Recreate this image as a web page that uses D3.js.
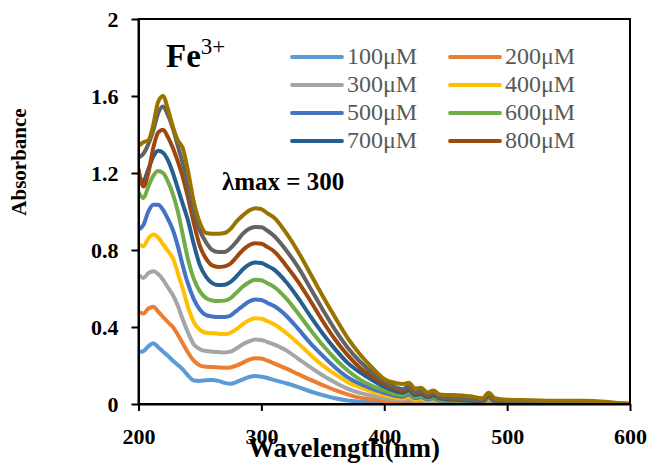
<!DOCTYPE html>
<html>
<head>
<meta charset="utf-8">
<script src="https://cdn.jsdelivr.net/npm/d3@7/dist/d3.min.js"></script>
<style>
  html, body { margin: 0; padding: 0; background: #fff; }
  svg { display: block; }
</style>
</head>
<body>
<svg id="chart" width="652" height="463"></svg>
<script>
// Wavelength grid (nm) shared by every spectrum
const wavelengths = [200,204,208,212,216,220,224,228,232,236,240,
  245,250,255,260,265,270,275,280,285,290,295,300,305,310,
  320,330,340,350,360,370,380,390,400,410,
  415,420,425,430,435,440,445,450,
  460,470,480,485,490,500,
  520,540,560,580,590,600];

// Absorbance of Fe3+ solutions at each concentration
const abs100 = [0.27,0.275,0.30,0.315,0.295,0.272,0.25,0.225,0.203,0.18,0.15,
  0.122,0.12,0.124,0.125,0.12,0.11,0.105,0.115,0.128,0.14,0.145,0.142,0.135,0.125,
  0.108,0.088,0.065,0.046,0.03,0.018,0.012,0.009,0.007,0.005,
  0.005,0.009,0.004,0.007,0.003,0.006,0.003,0.003,
  0.003,0.002,0.002,0.01,0.002,0.002,
  0.001,0.001,0.001,0,0,0];
const abs200 = [0.48,0.47,0.495,0.505,0.48,0.452,0.425,0.40,0.36,0.315,0.27,
  0.225,0.20,0.193,0.192,0.19,0.188,0.19,0.2,0.215,0.23,0.238,0.236,0.225,0.212,
  0.185,0.155,0.125,0.098,0.072,0.05,0.033,0.023,0.016,0.011,
  0.01,0.02,0.008,0.013,0.006,0.011,0.005,0.005,
  0.004,0.003,0.003,0.015,0.003,0.003,
  0.002,0.002,0.001,0,0,0];
const abs300 = [0.67,0.655,0.68,0.69,0.675,0.645,0.605,0.566,0.51,0.44,0.375,
  0.31,0.285,0.275,0.272,0.27,0.268,0.272,0.29,0.31,0.325,0.335,0.333,0.322,0.31,
  0.28,0.235,0.19,0.148,0.112,0.08,0.058,0.043,0.03,0.022,
  0.02,0.03,0.015,0.02,0.012,0.016,0.01,0.009,
  0.008,0.006,0.005,0.022,0.005,0.004,
  0.003,0.002,0.002,0.001,0,0];
const abs400 = [0.83,0.82,0.86,0.88,0.865,0.83,0.795,0.757,0.68,0.6,0.51,
  0.425,0.385,0.37,0.367,0.365,0.363,0.37,0.39,0.415,0.435,0.445,0.443,0.43,0.415,
  0.37,0.315,0.255,0.2,0.155,0.115,0.088,0.065,0.045,0.033,
  0.03,0.04,0.022,0.028,0.018,0.022,0.014,0.012,
  0.01,0.008,0.007,0.028,0.007,0.006,
  0.004,0.003,0.002,0.001,0,0];
const abs500 = [0.905,0.93,1.0,1.035,1.035,1.008,0.96,0.904,0.82,0.72,0.63,
  0.545,0.49,0.462,0.455,0.452,0.452,0.46,0.485,0.51,0.532,0.543,0.54,0.525,0.51,
  0.46,0.39,0.315,0.25,0.19,0.14,0.105,0.08,0.058,0.042,
  0.038,0.05,0.03,0.036,0.024,0.03,0.018,0.016,
  0.013,0.01,0.009,0.032,0.008,0.007,
  0.005,0.004,0.003,0.001,0,0];
const abs600 = [1.1,1.07,1.13,1.185,1.21,1.2,1.155,1.09,1.0,0.88,0.76,
  0.65,0.585,0.55,0.538,0.535,0.537,0.55,0.58,0.61,0.633,0.645,0.643,0.627,0.61,
  0.55,0.47,0.385,0.305,0.235,0.175,0.128,0.095,0.07,0.05,
  0.045,0.06,0.035,0.042,0.028,0.035,0.022,0.019,
  0.016,0.012,0.011,0.038,0.01,0.008,
  0.006,0.005,0.003,0.002,0.001,0];
const abs700 = [1.18,1.16,1.22,1.285,1.315,1.305,1.265,1.2,1.12,1.04,0.96,
  0.83,0.72,0.66,0.628,0.618,0.62,0.635,0.665,0.7,0.725,0.735,0.732,0.717,0.70,
  0.635,0.55,0.455,0.365,0.285,0.215,0.165,0.125,0.09,0.065,
  0.058,0.072,0.045,0.052,0.036,0.044,0.029,0.025,
  0.021,0.017,0.015,0.045,0.013,0.011,
  0.008,0.006,0.004,0.002,0.001,0];
const abs800 = [1.22,1.13,1.2,1.33,1.41,1.425,1.385,1.33,1.26,1.18,1.08,
  0.94,0.82,0.755,0.72,0.712,0.715,0.73,0.765,0.8,0.825,0.835,0.832,0.815,0.795,
  0.72,0.635,0.535,0.43,0.335,0.255,0.19,0.145,0.105,0.075,
  0.067,0.082,0.052,0.06,0.042,0.052,0.034,0.029,
  0.025,0.02,0.017,0.05,0.015,0.012,
  0.01,0.007,0.005,0.003,0.001,0];
const abs900 = [1.28,1.3,1.35,1.42,1.51,1.545,1.5,1.43,1.34,1.25,1.14,
  1.0,0.9,0.84,0.80,0.79,0.79,0.81,0.845,0.885,0.91,0.92,0.918,0.9,0.875,
  0.8,0.71,0.6,0.49,0.385,0.295,0.222,0.165,0.118,0.085,
  0.077,0.094,0.06,0.068,0.048,0.058,0.039,0.034,
  0.029,0.024,0.02,0.055,0.018,0.015,
  0.012,0.009,0.007,0.004,0.002,0];
const abs1000 = [1.34,1.36,1.37,1.45,1.57,1.6,1.53,1.44,1.37,1.33,1.22,
  1.05,0.94,0.888,0.884,0.884,0.888,0.91,0.95,0.98,1.005,1.017,1.012,0.99,0.97,
  0.89,0.79,0.675,0.56,0.45,0.345,0.26,0.19,0.13,0.108,
  0.104,0.11,0.08,0.085,0.06,0.07,0.05,0.047,
  0.046,0.04,0.03,0.058,0.03,0.022,
  0.02,0.017,0.017,0.012,0.005,0.003];

const seriesNames = ["100μM","200μM","300μM","400μM","500μM","600μM","700μM","800μM","900μM","1000μM"];
const seriesColors = ["#5B9BD5","#ED7D31","#A5A5A5","#FFC000","#4472C4","#70AD47","#255E91","#9E480E","#636363","#997300"];
const seriesValues = [abs100,abs200,abs300,abs400,abs500,abs600,abs700,abs800,abs900,abs1000];
const legendCount = 8; // only the first eight concentrations are listed

const xTicks = [200,300,400,500,600];
const yTicks = [0,0.4,0.8,1.2,1.6,2];

const serif = "'Liberation Serif','Times New Roman',Times,serif";
const svg = d3.select("#chart");
const plot = {left: 138.5, right: 630, top: 19, bottom: 404};

const x = d3.scaleLinear().domain([200,600]).range([plot.left, plot.right]);
const y = d3.scaleLinear().domain([0,2]).range([plot.bottom, plot.top]);

svg.append("rect").attr("width",652).attr("height",463).attr("fill","#fff");

// spectra
const line = d3.line()
  .x(d => x(d[0]))
  .y(d => y(d[1]))
  .curve(d3.curveMonotoneX);

svg.append("clipPath").attr("id","plotclip")
  .append("rect").attr("x",plot.left).attr("y",plot.top - 2)
  .attr("width",plot.right - plot.left).attr("height",plot.bottom - plot.top + 2);

const gLines = svg.append("g").attr("clip-path","url(#plotclip)");
seriesValues.forEach((vals,i) => {
  gLines.append("path")
    .datum(wavelengths.map((w,j) => [w, vals[j]]))
    .attr("d", line)
    .attr("fill","none")
    .attr("stroke", seriesColors[i])
    .attr("stroke-width", 4)
    .attr("stroke-linejoin","round")
    .attr("stroke-linecap","round");
});

// frame and axes
svg.append("rect")
  .attr("x",plot.left).attr("y",plot.top)
  .attr("width",plot.right - plot.left).attr("height",plot.bottom - plot.top)
  .attr("fill","none").attr("stroke","#000").attr("stroke-width",2);

const xAxis = svg.append("g")
  .attr("transform",`translate(0,${plot.bottom})`)
  .call(d3.axisBottom(x).tickValues(xTicks).tickSize(7).tickSizeOuter(0).tickPadding(17).tickFormat(d3.format("d")));
const yAxis = svg.append("g")
  .attr("transform",`translate(${plot.left},0)`)
  .call(d3.axisLeft(y).tickValues(yTicks).tickSize(7).tickSizeOuter(0).tickPadding(13).tickFormat(d => d === 0 || d === 2 ? String(d) : d3.format(".1f")(d)));

[xAxis, yAxis].forEach(g => {
  g.select(".domain").attr("stroke","#000").attr("stroke-width",2);
  g.selectAll(".tick line").attr("stroke","#000").attr("stroke-width",2);
  g.selectAll(".tick text")
    .attr("fill","#000")
    .style("font-family", serif)
    .style("font-weight","bold")
    .style("font-size","22px");
});
yAxis.selectAll(".tick text").attr("dy","0.34em");

// axis titles
svg.append("text")
  .attr("x",344).attr("y",457)
  .attr("text-anchor","middle")
  .style("font-family",serif).style("font-weight","bold").style("font-size","27px")
  .text("Wavelength(nm)");

svg.append("text")
  .attr("transform","translate(26,162) rotate(-90)")
  .attr("text-anchor","middle")
  .style("font-family",serif).style("font-weight","bold").style("font-size","21px")
  .text("Absorbance");

// annotations
const fe = svg.append("text")
  .attr("x",166).attr("y",67)
  .style("font-family",serif).style("font-weight","bold").style("font-size","33px");
fe.append("tspan").text("Fe");
fe.append("tspan").attr("dy",-13).style("font-size","23px").style("font-weight","normal").text("3+");

svg.append("text")
  .attr("x",222).attr("y",190)
  .style("font-family",serif).style("font-weight","bold").style("font-size","25px")
  .text("λmax = 300");

// legend
const legend = svg.append("g");
const legendCols = [292, 450];
const legendRows = [57, 85, 113, 141];
seriesNames.slice(0, legendCount).forEach((name,i) => {
  const lx = legendCols[i % 2], ly = legendRows[Math.floor(i / 2)];
  legend.append("line")
    .attr("x1",lx).attr("x2",lx + 50).attr("y1",ly).attr("y2",ly)
    .attr("stroke",seriesColors[i]).attr("stroke-width",3.8).attr("stroke-linecap","round");
  legend.append("text")
    .attr("x",lx + 55).attr("y",ly + 7)
    .attr("fill","#595959")
    .style("font-family",serif).style("font-size","24px")
    .text(name);
});
</script>
</body>
</html>
